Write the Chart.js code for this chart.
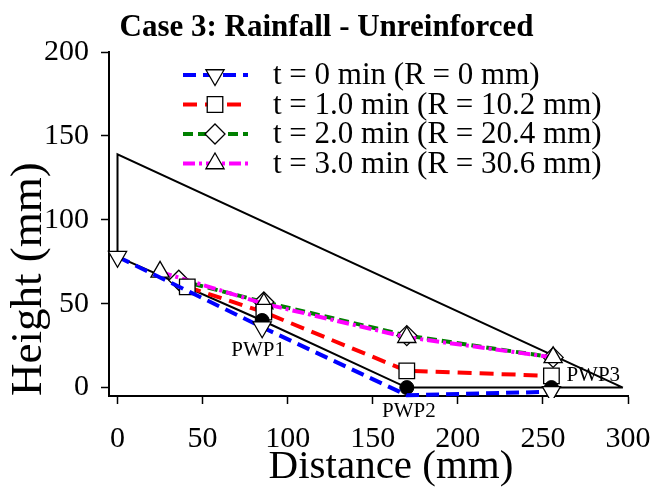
<!DOCTYPE html>
<html>
<head>
<meta charset="utf-8">
<title>Case 3: Rainfall - Unreinforced</title>
<script src="https://cdn.jsdelivr.net/npm/chart.js@4.4.1/dist/chart.umd.min.js"></script>
<style>
  html, body { margin: 0; padding: 0; background: #fff; }
</style>
</head>
<body>
<canvas id="chart" width="653" height="489"></canvas>
<script>
const FONT = "'Liberation Serif', 'Times New Roman', serif";

// Axis ticks and titles
const xTicks = [0, 50, 100, 150, 200, 250, 300];
const yTicks = [0, 50, 100, 150, 200];
const xTitle = 'Distance (mm)';
const yTitle = 'Height (mm)';

// Slope outline: toe -> crest -> base of crest -> phreatic line back to toe
const slopeX = [297, 0, 0, 85, 170, 297];
const slopeY = [0, 139, 78, 40, 0, 0];

// Pore water pressure sensors
const pwpX = [85, 170, 255];
const pwpY = [40, 0, 0];
const pwpNames = ['PWP1', 'PWP2', 'PWP3'];

// Water table at each time step
const seriesLabels = [
  't = 0 min (R = 0 mm)',
  't = 1.0 min (R = 10.2 mm)',
  't = 2.0 min (R = 20.4 mm)',
  't = 3.0 min (R = 30.6 mm)'
];
const t0X = [0, 85, 170, 255];
const t0Y = [78, 36, -4.5, -2.5];
const t1X = [41, 86, 170, 255];
const t1Y = [60, 45, 10, 7];
const t2X = [36, 86, 170, 256];
const t2Y = [64, 51, 31, 18];
const t3X = [25, 86, 170, 256];
const t3Y = [69, 50, 30, 18];

const pts = (xs, ys) => xs.map((x, i) => ({ x, y: ys[i] }));

function series(label, xs, ys, color, dash, style, radius, rotation, order, radii) {
  return {
    label,
    data: pts(xs, ys),
    showLine: true,
    borderColor: color,
    borderWidth: 4,
    borderDash: dash,
    pointStyle: style,
    rotation,
    pointRadius: radii || radius,
    legendRadius: radius,
    pointBackgroundColor: '#fff',
    pointBorderColor: '#000',
    pointBorderWidth: 1.3,
    order,
    clip: { left: 12, right: 12, top: 12, bottom: 2 },
    inLegend: true
  };
}

// Legend drawn as line + marker + text, like the plotting package does
const legendPlugin = {
  id: 'seriesLegend',
  afterDraw(chart) {
    const ctx = chart.ctx;
    const items = chart.data.datasets.filter(d => d.inLegend);
    ctx.save();
    items.forEach((d, i) => {
      const y = 75 + i * 29.5;
      ctx.strokeStyle = d.borderColor;
      ctx.lineWidth = 4;
      ctx.setLineDash(d.borderDash);
      ctx.beginPath();
      ctx.moveTo(183, y);
      ctx.lineTo(248, y);
      ctx.stroke();
      ctx.setLineDash([]);
      ctx.fillStyle = '#fff';
      ctx.strokeStyle = '#000';
      ctx.lineWidth = 1.3;
      Chart.helpers.drawPoint(ctx, {
        pointStyle: d.pointStyle,
        rotation: d.rotation,
        radius: d.legendRadius,
        borderWidth: 1.3
      }, 215, y);
      ctx.fillStyle = '#000';
      ctx.font = '31px ' + FONT;
      ctx.textAlign = 'left';
      ctx.textBaseline = 'middle';
      ctx.fillText(d.label, 273, y + 1);
    });
    ctx.restore();
  }
};

// Sensor names beside the black dots, plus the two axis titles
const labelPlugin = {
  id: 'extraLabels',
  afterDatasetsDraw(chart) {
    const ctx = chart.ctx;
    const xs = chart.scales.x, ys = chart.scales.y;
    const offsets = [[-4, 30, 'center'], [2, 24, 'center'], [15, -12, 'left']];
    ctx.save();
    ctx.fillStyle = '#000';
    ctx.font = '21px ' + FONT;
    ctx.textBaseline = 'middle';
    pwpNames.forEach((name, i) => {
      const px = xs.getPixelForValue(pwpX[i]);
      const py = ys.getPixelForValue(pwpY[i]);
      ctx.textAlign = offsets[i][2];
      ctx.fillText(name, px + offsets[i][0], py + offsets[i][1]);
    });

    ctx.font = '41px ' + FONT;
    ctx.textAlign = 'center';
    ctx.fillText(xTitle, 391, 467);

    ctx.translate(29, 396);
    ctx.rotate(-Math.PI / 2);
    ctx.font = '45px ' + FONT;
    ctx.textAlign = 'left';
    ctx.fillText(yTitle, 0, 0);
    ctx.restore();
  }
};

new Chart(document.getElementById('chart'), {
  type: 'scatter',
  data: {
    datasets: [
      series(seriesLabels[0], t0X, t0Y, '#0000ff', [13, 7], 'triangle', 10.5, 180, 1, [10.5, 10.5, 0, 10.5]),
      series(seriesLabels[1], t1X, t1Y, '#ff0000', [14, 8], 'rect', 11, 0, 3),
      series(seriesLabels[2], t2X, t2Y, '#008000', [10, 5], 'rectRot', 10, 0, 5),
      series(seriesLabels[3], t3X, t3Y, '#ff00ff', [12, 4, 3, 4], 'triangle', 10.5, 0, 4),
      {
        label: 'PWP',
        data: pts(pwpX, pwpY),
        showLine: false,
        pointRadius: 7,
        pointBackgroundColor: '#000',
        pointBorderColor: '#000',
        order: 2,
        clip: false
      },
      {
        label: 'Slope',
        data: pts(slopeX, slopeY),
        showLine: true,
        borderColor: '#000',
        borderWidth: 2,
        pointRadius: 0,
        order: 6
      }
    ]
  },
  options: {
    responsive: false,
    devicePixelRatio: 1,
    animation: false,
    layout: { padding: 0 },
    plugins: {
      legend: { display: false },
      tooltip: { enabled: false },
      title: {
        display: true,
        text: 'Case 3: Rainfall - Unreinforced',
        color: '#000',
        font: { family: FONT, size: 31, weight: 'bold' },
        padding: { top: 9, bottom: 5.8 }
      }
    },
    scales: {
      x: {
        type: 'linear',
        min: -5,
        max: 300,
        afterBuildTicks: s => { s.ticks = xTicks.map(v => ({ value: v })); },
        afterFit: s => { s.height = 93; s.paddingLeft = 0; s.paddingRight = 0; },
        border: { color: '#000', width: 2 },
        grid: { drawOnChartArea: false, color: '#000', tickLength: 8, tickWidth: 1.5 },
        ticks: { color: '#000', font: { family: FONT, size: 30 }, padding: 17, maxRotation: 0, autoSkip: false }
      },
      y: {
        type: 'linear',
        min: -5,
        max: 200,
        afterBuildTicks: s => { s.ticks = yTicks.map(v => ({ value: v })); },
        afterFit: s => { s.width = 109; s.paddingTop = 0; s.paddingBottom = 0; },
        border: { color: '#000', width: 2 },
        grid: { drawOnChartArea: false, color: '#000', tickLength: 8, tickWidth: 1.5 },
        ticks: { color: '#000', font: { family: FONT, size: 30 }, padding: 12, autoSkip: false }
      },
      // empty strip on the right so the last x label fits
      yRight: {
        type: 'linear',
        position: 'right',
        afterFit: s => { s.width = 25; },
        grid: { display: false },
        border: { display: false },
        ticks: { display: false }
      }
    }
  },
  plugins: [legendPlugin, labelPlugin]
});
</script>
</body>
</html>
